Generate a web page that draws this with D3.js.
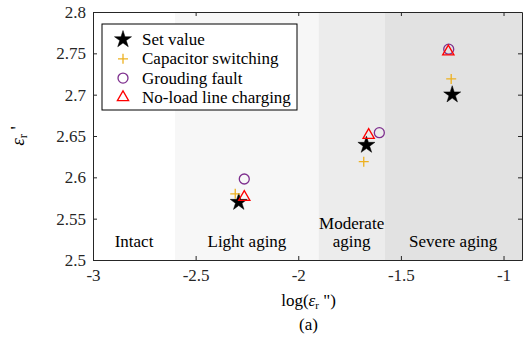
<!DOCTYPE html>
<html>
<head>
<meta charset="utf-8">
<script src="https://cdn.jsdelivr.net/npm/d3@7"></script>
<style>
  body { margin: 0; background: #fff; }
  svg text { font-family: "Liberation Serif", "Times New Roman", serif; fill: #262626; }
</style>
</head>
<body>
<div id="chart"></div>
<script>
// aging stages (x ranges in log(eps'') units)
const stageNames = [["Intact"], ["Light aging"], ["Moderate", "aging"], ["Severe aging"]];
const stageStart = [-3, -2.6, -1.9, -1.58];
const stageEnd = [-2.6, -1.9, -1.58, -0.91];
const stageFill = ["#ffffff", "#f7f7f7", "#ececec", "#e2e2e2"];

// series: x = log(eps_r''), y = eps_r'
const seriesNames = ["Set value", "Capacitor switching", "Grouding fault", "No-load line charging"];
const setX = [-2.29, -1.668, -1.25];
const setY = [2.570, 2.639, 2.700];
const capX = [-2.307, -1.681, -1.255];
const capY = [2.580, 2.619, 2.719];
const gndX = [-2.263, -1.605, -1.267];
const gndY = [2.598, 2.654, 2.755];
const nllX = [-2.263, -1.657, -1.269];
const nllY = [2.576, 2.651, 2.752];

const xTicks = [-3, -2.5, -2, -1.5, -1];
const yTicks = [2.5, 2.55, 2.6, 2.65, 2.7, 2.75, 2.8];

const W = 525, H = 346;
const margin = { left: 93, right: 3, top: 12, bottom: 86 };
const plotW = W - margin.left - margin.right;
const plotH = H - margin.top - margin.bottom;
const serif = "'Liberation Serif', 'Times New Roman', serif";
const fs = "17px";

const svg = d3.select("#chart").append("svg")
  .attr("width", W).attr("height", H)
  .attr("font-family", serif);

const g = svg.append("g")
  .attr("transform", `translate(${margin.left},${margin.top})`);

const x = d3.scaleLinear().domain([-3, -0.91]).range([0, plotW]);
const y = d3.scaleLinear().domain([2.5, 2.8]).range([plotH, 0]);

// stage backgrounds
g.selectAll(".stage").data(stageStart).enter().append("rect")
  .attr("x", (d) => x(d))
  .attr("y", 0)
  .attr("width", (d, i) => x(stageEnd[i]) - x(d))
  .attr("height", plotH)
  .style("fill", (d, i) => stageFill[i]);

// stage labels
stageNames.forEach((lines, i) => {
  const cx = (x(stageStart[i]) + x(stageEnd[i])) / 2;
  lines.forEach((t, j) => {
    g.append("text")
      .attr("x", cx)
      .attr("y", plotH - 13 - (lines.length - 1 - j) * 18)
      .attr("text-anchor", "middle")
      .style("font-family", serif)
      .style("font-size", fs)
      .style("fill", "#000")
      .text(t);
  });
});

// axes (ticks inside, box on)
const axisColor = "#262626";
const fmt = (d) => String(d);
const xAxis = g.append("g").attr("transform", `translate(0,${plotH})`)
  .call(d3.axisBottom(x).tickValues(xTicks).tickSizeInner(-4).tickSizeOuter(0).tickPadding(9).tickFormat(fmt));
const xTop = g.append("g")
  .call(d3.axisTop(x).tickValues(xTicks).tickSizeInner(-4).tickSizeOuter(0).tickFormat(""));
const yAxis = g.append("g")
  .call(d3.axisLeft(y).tickValues(yTicks).tickSizeInner(-4).tickSizeOuter(0).tickPadding(7).tickFormat(fmt));
const yRight = g.append("g").attr("transform", `translate(${plotW},0)`)
  .call(d3.axisRight(y).tickValues(yTicks).tickSizeInner(-4).tickSizeOuter(0).tickFormat(""));

[xAxis, xTop, yAxis, yRight].forEach((a) => {
  a.attr("font-family", serif).attr("font-size", 17);
  a.select(".domain").style("stroke", axisColor);
  a.selectAll(".tick line").style("stroke", axisColor);
  a.selectAll("text")
    .style("font-family", serif)
    .style("font-size", fs)
    .style("fill", axisColor);
});

// markers
const starPath = d3.symbol().type(d3.symbolStar).size(90)();
const triPath = d3.symbol().type(d3.symbolTriangle).size(55)();

function drawStar(sel, px, py) {
  sel.append("path").attr("d", starPath)
    .attr("transform", `translate(${px},${py})`)
    .style("fill", "#000").style("stroke", "#000").style("stroke-width", 0.5);
}
function drawPlus(sel, px, py) {
  sel.append("path").attr("d", `M${px - 5},${py}H${px + 5}M${px},${py - 5}V${py + 5}`)
    .style("stroke", "#EDB120").style("stroke-width", 1.3).style("fill", "none");
}
function drawCircle(sel, px, py) {
  sel.append("circle").attr("cx", px).attr("cy", py).attr("r", 5)
    .style("fill", "none").style("stroke", "#7E2F8E").style("stroke-width", 1.3);
}
function drawTri(sel, px, py) {
  sel.append("path").attr("d", triPath)
    .attr("transform", `translate(${px},${py})`)
    .style("fill", "none").style("stroke", "#ff0000").style("stroke-width", 1.3);
}

const pts = g.append("g");
setX.forEach((d, i) => drawStar(pts, x(d), y(setY[i])));
capX.forEach((d, i) => drawPlus(pts, x(d), y(capY[i])));
gndX.forEach((d, i) => drawCircle(pts, x(d), y(gndY[i])));
nllX.forEach((d, i) => drawTri(pts, x(d), y(nllY[i])));

// legend
const leg = svg.append("g").attr("transform", "translate(102,24)");
leg.append("rect").attr("width", 195).attr("height", 86)
  .style("fill", "#fff").style("stroke", "#000").style("stroke-width", 1);
const drawers = [drawStar, drawPlus, drawCircle, drawTri];
seriesNames.forEach((name, i) => {
  const yy = 15.5 + i * 19.3;
  drawers[i](leg, 21, yy);
  leg.append("text").attr("x", 40).attr("y", yy + 5.5)
    .style("font-family", serif)
    .style("font-size", fs).style("fill", "#000")
    .text(name);
});

// axis labels
const xl = svg.append("text")
  .attr("x", margin.left + x(-1.95)).attr("y", 306)
  .attr("text-anchor", "middle")
  .style("font-family", serif)
  .style("font-size", fs).style("fill", "#000");
xl.append("tspan").text("log(");
xl.append("tspan").style("font-style", "italic").text("\u03b5");
xl.append("tspan").attr("dy", 3).style("font-size", "11px").text("r");
xl.append("tspan").attr("dy", -3).text(" \")");

const yl = svg.append("text")
  .attr("transform", `translate(24,${margin.top + plotH / 2}) rotate(-90)`)
  .attr("text-anchor", "middle")
  .style("font-family", serif)
  .style("font-size", "19px").style("fill", "#000");
yl.append("tspan").style("font-style", "italic").text("\u03b5");
yl.append("tspan").attr("dy", 3).style("font-size", "12px").text("r");
yl.append("tspan").attr("dy", -3).text(" '");

svg.append("text")
  .attr("x", margin.left + x(-1.95)).attr("y", 330)
  .attr("text-anchor", "middle")
  .style("font-family", serif)
  .style("font-size", fs).style("fill", "#000")
  .text("(a)");
</script>
</body>
</html>
